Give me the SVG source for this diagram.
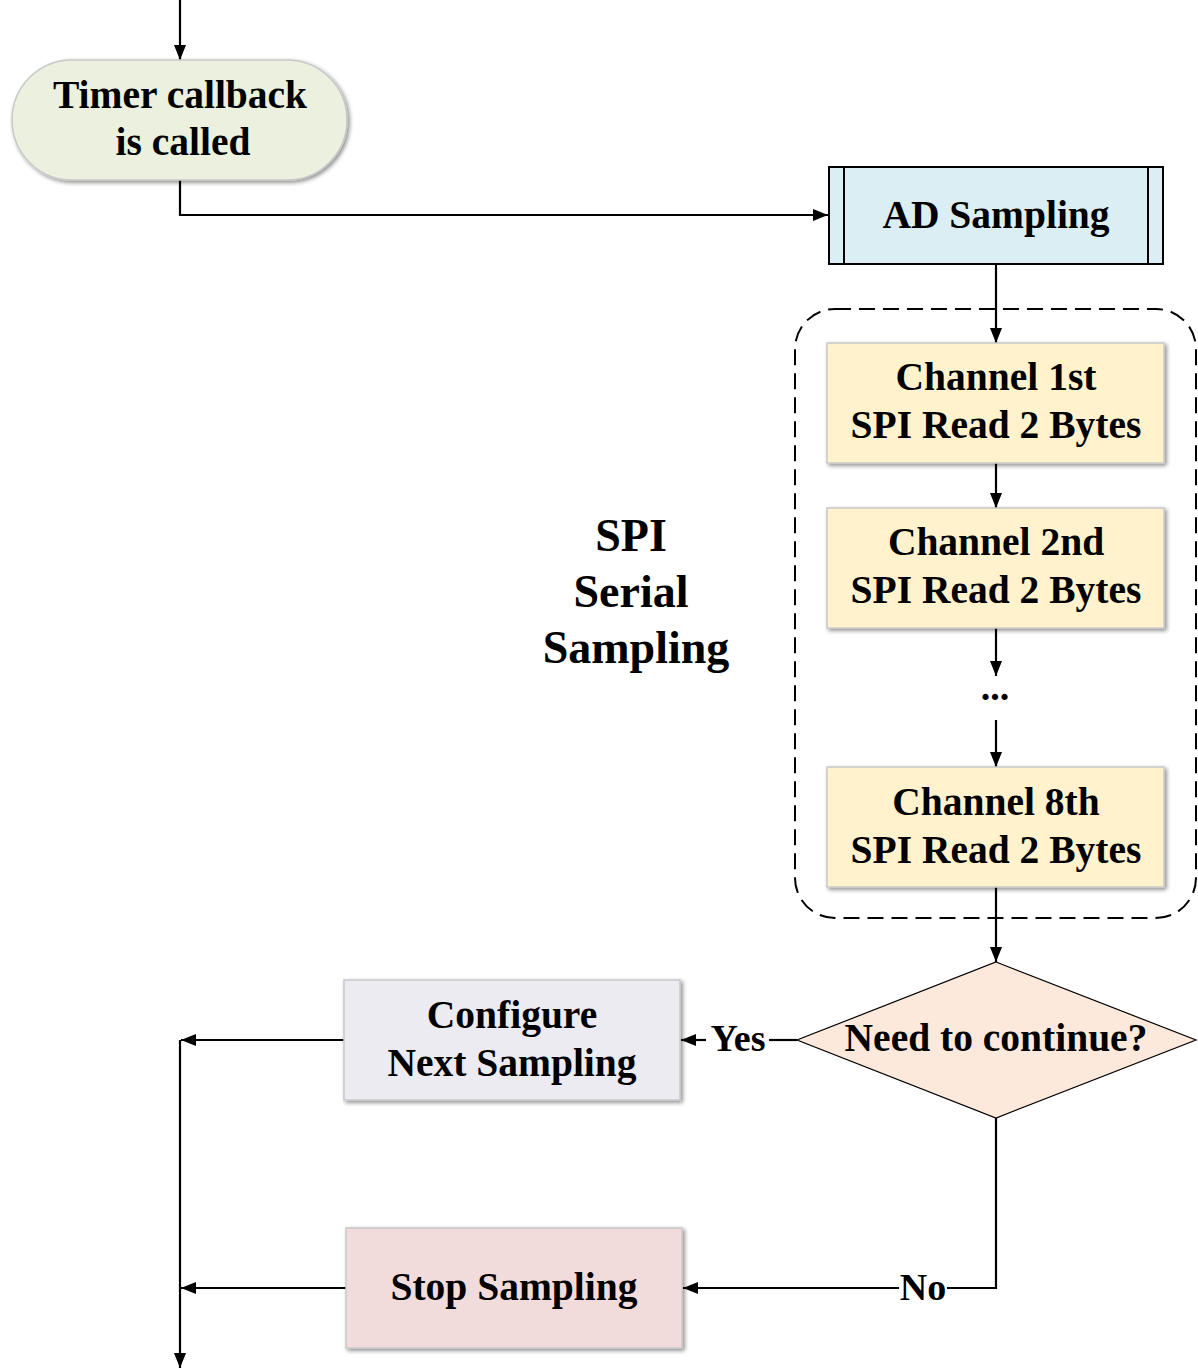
<svg xmlns="http://www.w3.org/2000/svg" width="1198" height="1371" viewBox="0 0 1198 1371">
<style>
text{font-family:"Liberation Serif","Times New Roman",serif;font-weight:bold;font-size:39.5px;fill:#000;text-anchor:middle}
.big{font-size:46px}
.lbl{font-size:38px}
.box{stroke:#c8c8c8;stroke-width:1.5;filter:url(#sh)}
.ln{fill:none;stroke:#000;stroke-width:2.2}
</style>
<defs>
<filter id="sh" x="-10%" y="-10%" width="130%" height="130%">
<feGaussianBlur in="SourceAlpha" stdDeviation="2"/>
<feOffset dx="2" dy="2" result="b"/>
<feComponentTransfer><feFuncA type="linear" slope="0.45"/></feComponentTransfer>
<feMerge><feMergeNode/><feMergeNode in="SourceGraphic"/></feMerge>
</filter>
<marker id="ar" viewBox="0 0 15 12" refX="15" refY="6" markerWidth="15" markerHeight="12" markerUnits="userSpaceOnUse" orient="auto">
<path d="M0,0 L15,6 L0,12 z" fill="#000"/>
</marker>
</defs>

<g id="connectors">
<path class="ln" d="M180,0 V60" marker-end="url(#ar)"/>
<path class="ln" d="M180,180 V215 H828" marker-end="url(#ar)"/>
<path class="ln" d="M996,264 V343" marker-end="url(#ar)"/>
<path class="ln" d="M996,463 V508" marker-end="url(#ar)"/>
<path class="ln" d="M996,628 V676" marker-end="url(#ar)"/>
<path class="ln" d="M996,720 V767" marker-end="url(#ar)"/>
<path class="ln" d="M996,887 V962" marker-end="url(#ar)"/>
<path class="ln" d="M797,1040 H769"/>
<path class="ln" d="M706,1040 H681" marker-end="url(#ar)"/>
<path class="ln" d="M344,1040 H181" marker-end="url(#ar)"/>
<path class="ln" d="M180,1040 V1368" marker-end="url(#ar)"/>
<path class="ln" d="M996,1118 V1288 H947"/>
<path class="ln" d="M899,1288 H683" marker-end="url(#ar)"/>
<path class="ln" d="M346,1288 H181" marker-end="url(#ar)"/>
</g>

<g id="group-spi">
<rect x="795" y="309" width="401" height="609" rx="40" fill="none" stroke="#000" stroke-width="2" stroke-dasharray="16,8"/>
<text class="big" x="631" y="551">SPI</text>
<text class="big" x="631" y="607">Serial</text>
<text class="big" x="636" y="663">Sampling</text>
</g>

<g id="timer">
<rect class="box" x="12" y="60" width="335" height="120" rx="60" fill="#ebf1de" stroke="#c5cfb3"/>
<text x="180" y="108">Timer callback</text>
<text x="183" y="155">is called</text>
</g>

<g id="ad-sampling">
<rect x="829" y="167" width="334" height="97" fill="#dbeef4" stroke="#000" stroke-width="2"/>
<line x1="844" y1="167" x2="844" y2="264" stroke="#000" stroke-width="2"/>
<line x1="1148" y1="167" x2="1148" y2="264" stroke="#000" stroke-width="2"/>
<text x="996" y="228">AD Sampling</text>
</g>

<g id="ch1">
<rect class="box" x="827" y="343" width="337" height="120" fill="#fff2cc"/>
<text x="996" y="390">Channel 1st</text>
<text x="996" y="438">SPI Read 2 Bytes</text>
</g>

<g id="ch2">
<rect class="box" x="827" y="508" width="337" height="120" fill="#fff2cc"/>
<text x="996" y="555">Channel 2nd</text>
<text x="996" y="603">SPI Read 2 Bytes</text>
</g>

<g id="dots">
<text x="995" y="700" style="font-size:38px">...</text>
</g>

<g id="ch8">
<rect class="box" x="827" y="767" width="337" height="120" fill="#fff2cc"/>
<text x="996" y="815">Channel 8th</text>
<text x="996" y="863">SPI Read 2 Bytes</text>
</g>

<g id="decision">
<polygon points="996,962 1196,1040 996,1118 797,1040" fill="#fce9db" stroke="#000" stroke-width="1.2"/>
<text x="996" y="1051">Need to continue?</text>
</g>

<g id="yes-label"><text class="lbl" x="738" y="1051">Yes</text></g>
<g id="no-label"><text class="lbl" x="923" y="1300">No</text></g>

<g id="configure">
<rect class="box" x="344" y="980" width="336" height="120" fill="#ecebf2"/>
<text x="512" y="1028">Configure</text>
<text x="512" y="1076">Next Sampling</text>
</g>

<g id="stop">
<rect class="box" x="346" y="1228" width="336" height="120" fill="#f2dcdb"/>
<text x="514" y="1300">Stop Sampling</text>
</g>
</svg>
